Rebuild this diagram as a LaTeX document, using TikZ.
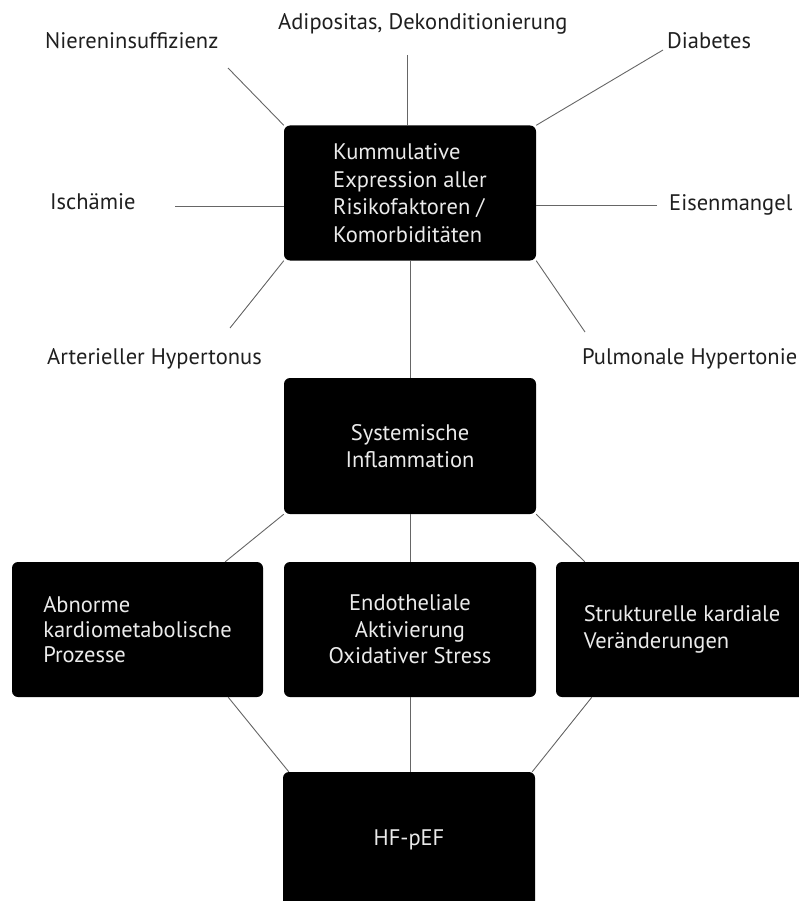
\documentclass[tikz,border=0pt]{standalone}
\usepackage{fontspec}
\setmainfont{PT Sans}
\usetikzlibrary{calc}
\begin{document}
\begin{tikzpicture}[x=1pt,y=-1pt,
  box/.style={fill=black, rounded corners=6pt, minimum width=252pt, minimum height=135pt,
    text=white!92!black, inner sep=0pt, font=\fontsize{22.5}{27.5}\selectfont},
  lbl/.style={anchor=base west, inner sep=0pt, text=black!88, font=\fontsize{22.5}{27}\selectfont},
  conn/.style={draw=black!60, line width=0.9pt}]
\useasboundingbox (0,0) rectangle (799,901);
\clip (0,0) rectangle (799,901);
% boxes
\node[box, align=left] (top) at (410,193) {Kummulative\\Expression aller\\Risikofaktoren /\\Komorbiditäten};
\node[box, align=center, minimum height=136pt, font=\fontsize{22.5}{27}\selectfont] (sys) at (410,446) {Systemische\\Inflammation};
\node[box, align=left, minimum width=251pt, font=\fontsize{22.5}{25}\selectfont] (left) at (137.5,629.5) {Abnorme\\kardiometabolische\\Prozesse};
\node[box, align=center, font=\fontsize{22.5}{26.5}\selectfont] (mid) at (410,629.5) {Endotheliale\\Aktivierung\\Oxidativer Stress};
\node[box, align=left, font=\fontsize{22.5}{27}\selectfont] (right) at (682,629.5) {Strukturelle kardiale\\Veränderungen};
\node[box] (hf) at (409,839.5) {HF-pEF};
% labels
\node[lbl] (niere) at (45,49) {Niereninsuffizienz};
\node[lbl] (adipo) at (278,30) {Adipositas, Dekonditionierung};
\node[lbl] (diab) at (667,49) {Diabetes};
\node[lbl] (isch) at (50,210) {Ischämie};
\node[lbl] (eisen) at (669,211) {Eisenmangel};
\node[lbl] (arter) at (47,364) {Arterieller Hypertonus};
\node[lbl] (pulm) at (582,364) {Pulmonale Hypertonie};
% free ends
\coordinate (cn) at (228,68);
\coordinate (ca) at (407,55);
\coordinate (cd) at (663,50);
\coordinate (ci) at (175,206);
\coordinate (ce) at (657,205);
\coordinate (car) at (230,328);
\coordinate (cp) at (585,332);
% connectors
\draw[conn] (cn) -- (top.north west);
\draw[conn] (ca) -- (ca |- top.north);
\draw[conn] (cd) -- (top.north east);
\draw[conn] (ci) -- (ci -| top.west);
\draw[conn] (ce) -- (ce -| top.east);
\draw[conn] (car) -- (top.south west);
\draw[conn] (cp) -- (top.south east);
\draw[conn] (top.south) -- (top.south |- sys.north);
\draw[conn] (sys.south west) -- ($(left.north east)+(-38,0)$);
\draw[conn] (sys.south) -- (sys.south |- mid.north);
\draw[conn] (sys.south east) -- ($(right.north west)+(29,0)$);
\draw[conn] ($(left.south east)+(-35,0)$) -- ($(hf.north west)+(6,0)$);
\draw[conn] (mid.south) -- (mid.south |- hf.north);
\draw[conn] ($(right.south west)+(36,0)$) -- ($(hf.north east)+(-3,0)$);
\end{tikzpicture}
\end{document}
